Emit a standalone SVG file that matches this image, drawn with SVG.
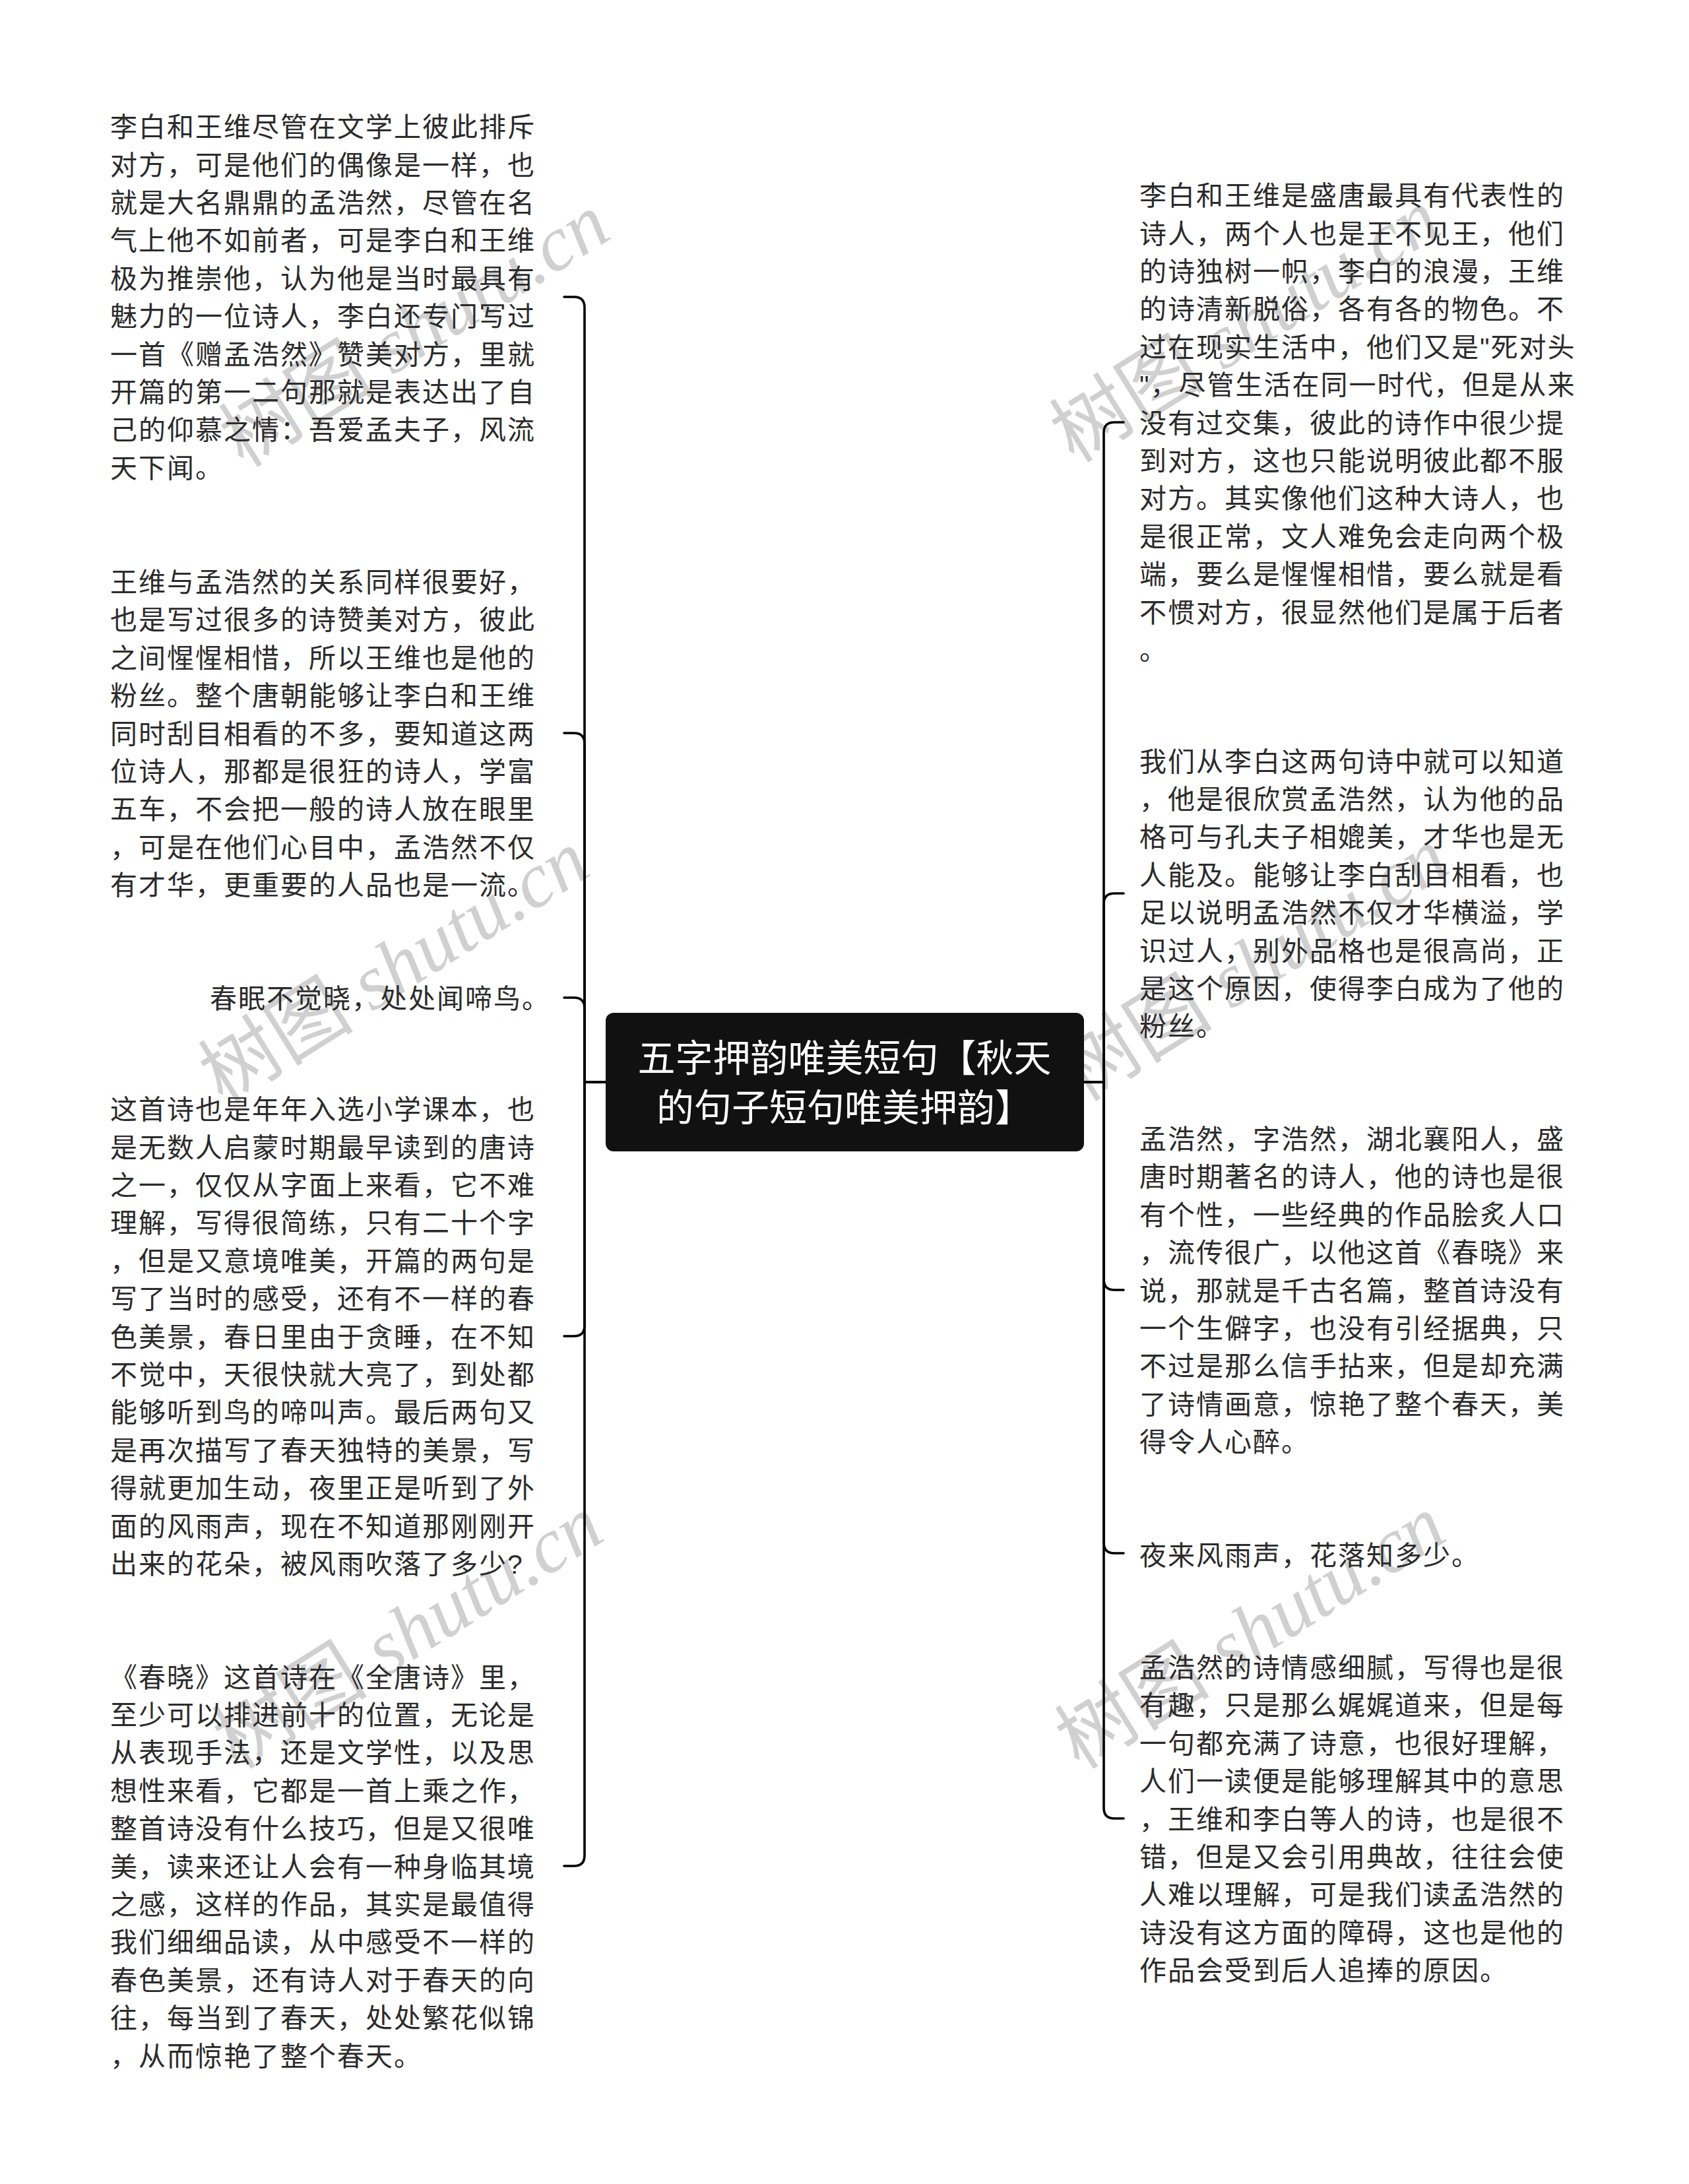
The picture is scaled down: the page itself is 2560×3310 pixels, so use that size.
<svg xmlns="http://www.w3.org/2000/svg" width="2560" height="3310" viewBox="0 0 2560 3310">
<style>
.bg{fill:#ffffff}
.wm{font-family:"Liberation Serif","Noto Sans CJK SC",serif;font-size:118px;fill:#d0d0d0}
.wm .it{font-style:italic}
.t{font-family:"Liberation Sans","Noto Sans CJK SC",sans-serif;font-size:41px;letter-spacing:2px;fill:#2b2b2b}
.title{font-family:"Liberation Sans","Noto Sans CJK SC",sans-serif;font-size:57px;fill:#ffffff;text-anchor:middle}
.conn{fill:none;stroke:#000000;stroke-width:3.6;stroke-linecap:round;stroke-linejoin:round}
.rootbox{fill:#111111}
</style>
<rect class="bg" x="0" y="0" width="2560" height="3310"/>
<g id="watermarks">
<text class="wm" transform="translate(369,710) rotate(-32)">树图<tspan class="it"> shutu.cn</tspan></text>
<text class="wm" transform="translate(338,1675) rotate(-32)">树图<tspan class="it"> shutu.cn</tspan></text>
<text class="wm" transform="translate(359,2683) rotate(-32)">树图<tspan class="it"> shutu.cn</tspan></text>
<text class="wm" transform="translate(1628,703) rotate(-32)">树图<tspan class="it"> shutu.cn</tspan></text>
<text class="wm" transform="translate(1640,1671) rotate(-32)">树图<tspan class="it"> shutu.cn</tspan></text>
<text class="wm" transform="translate(1636,2683) rotate(-32)">树图<tspan class="it"> shutu.cn</tspan></text>
</g>
<g id="connectors">
<path class="conn" d="M918 1640 H886 V466 Q886 450 870 450 H855"/>
<path class="conn" d="M918 1640 H886 V1127 Q886 1111 870 1111 H855"/>
<path class="conn" d="M918 1640 H886 V1528 Q886 1512 870 1512 H855"/>
<path class="conn" d="M918 1640 H886 V2009 Q886 2025 870 2025 H855"/>
<path class="conn" d="M918 1640 H886 V2812 Q886 2828 870 2828 H855"/>
<path class="conn" d="M1643 1640 H1673 V656 Q1673 640 1689 640 H1703"/>
<path class="conn" d="M1643 1640 H1673 V1370 Q1673 1354 1689 1354 H1703"/>
<path class="conn" d="M1643 1640 H1673 V1939 Q1673 1955 1689 1955 H1703"/>
<path class="conn" d="M1643 1640 H1673 V2338 Q1673 2354 1689 2354 H1703"/>
<path class="conn" d="M1643 1640 H1673 V2740 Q1673 2756 1689 2756 H1703"/>
</g>
<g id="root">
<rect class="rootbox" x="918" y="1535" width="725" height="210" rx="12" ry="12"/>
<text class="title" x="1280" y="1624">五字押韵唯美短句【秋天</text>
<text class="title" x="1280" y="1699">的句子短句唯美押韵】</text>
</g>
<g id="left1">
<text class="t" x="167" y="207.2"><tspan x="167" dy="0">李白和王维尽管在文学上彼此排斥</tspan><tspan x="167" dy="57.4">对方，可是他们的偶像是一样，也</tspan><tspan x="167" dy="57.4">就是大名鼎鼎的孟浩然，尽管在名</tspan><tspan x="167" dy="57.4">气上他不如前者，可是李白和王维</tspan><tspan x="167" dy="57.4">极为推崇他，认为他是当时最具有</tspan><tspan x="167" dy="57.4">魅力的一位诗人，李白还专门写过</tspan><tspan x="167" dy="57.4">一首《赠孟浩然》赞美对方，里就</tspan><tspan x="167" dy="57.4">开篇的第一二句那就是表达出了自</tspan><tspan x="167" dy="57.4">己的仰慕之情：吾爱孟夫子，风流</tspan><tspan x="167" dy="57.4">天下闻。</tspan></text>
</g>
<g id="left2">
<text class="t" x="167" y="896.9"><tspan x="167" dy="0">王维与孟浩然的关系同样很要好，</tspan><tspan x="167" dy="57.4">也是写过很多的诗赞美对方，彼此</tspan><tspan x="167" dy="57.4">之间惺惺相惜，所以王维也是他的</tspan><tspan x="167" dy="57.4">粉丝。整个唐朝能够让李白和王维</tspan><tspan x="167" dy="57.4">同时刮目相看的不多，要知道这两</tspan><tspan x="167" dy="57.4">位诗人，那都是很狂的诗人，学富</tspan><tspan x="167" dy="57.4">五车，不会把一般的诗人放在眼里</tspan><tspan x="167" dy="57.4">，可是在他们心目中，孟浩然不仅</tspan><tspan x="167" dy="57.4">有才华，更重要的人品也是一流。</tspan></text>
</g>
<g id="left3">
<text class="t" x="318" y="1527.5">春眠不觉晓，处处闻啼鸟。</text>
</g>
<g id="left4">
<text class="t" x="167" y="1696.1"><tspan x="167" dy="0">这首诗也是年年入选小学课本，也</tspan><tspan x="167" dy="57.4">是无数人启蒙时期最早读到的唐诗</tspan><tspan x="167" dy="57.4">之一，仅仅从字面上来看，它不难</tspan><tspan x="167" dy="57.4">理解，写得很简练，只有二十个字</tspan><tspan x="167" dy="57.4">，但是又意境唯美，开篇的两句是</tspan><tspan x="167" dy="57.4">写了当时的感受，还有不一样的春</tspan><tspan x="167" dy="57.4">色美景，春日里由于贪睡，在不知</tspan><tspan x="167" dy="57.4">不觉中，天很快就大亮了，到处都</tspan><tspan x="167" dy="57.4">能够听到鸟的啼叫声。最后两句又</tspan><tspan x="167" dy="57.4">是再次描写了春天独特的美景，写</tspan><tspan x="167" dy="57.4">得就更加生动，夜里正是听到了外</tspan><tspan x="167" dy="57.4">面的风雨声，现在不知道那刚刚开</tspan><tspan x="167" dy="57.4">出来的花朵，被风雨吹落了多少?</tspan></text>
</g>
<g id="left5">
<text class="t" x="167" y="2556.5"><tspan x="167" dy="0">《春晓》这首诗在《全唐诗》里，</tspan><tspan x="167" dy="57.4">至少可以排进前十的位置，无论是</tspan><tspan x="167" dy="57.4">从表现手法，还是文学性，以及思</tspan><tspan x="167" dy="57.4">想性来看，它都是一首上乘之作，</tspan><tspan x="167" dy="57.4">整首诗没有什么技巧，但是又很唯</tspan><tspan x="167" dy="57.4">美，读来还让人会有一种身临其境</tspan><tspan x="167" dy="57.4">之感，这样的作品，其实是最值得</tspan><tspan x="167" dy="57.4">我们细细品读，从中感受不一样的</tspan><tspan x="167" dy="57.4">春色美景，还有诗人对于春天的向</tspan><tspan x="167" dy="57.4">往，每当到了春天，处处繁花似锦</tspan><tspan x="167" dy="57.4">，从而惊艳了整个春天。</tspan></text>
</g>
<g id="right1">
<text class="t" x="1727" y="311.1"><tspan x="1727" dy="0">李白和王维是盛唐最具有代表性的</tspan><tspan x="1727" dy="57.4">诗人，两个人也是王不见王，他们</tspan><tspan x="1727" dy="57.4">的诗独树一帜，李白的浪漫，王维</tspan><tspan x="1727" dy="57.4">的诗清新脱俗，各有各的物色。不</tspan><tspan x="1727" dy="57.4">过在现实生活中，他们又是"死对头</tspan><tspan x="1727" dy="57.4">"，尽管生活在同一时代，但是从来</tspan><tspan x="1727" dy="57.4">没有过交集，彼此的诗作中很少提</tspan><tspan x="1727" dy="57.4">到对方，这也只能说明彼此都不服</tspan><tspan x="1727" dy="57.4">对方。其实像他们这种大诗人，也</tspan><tspan x="1727" dy="57.4">是很正常，文人难免会走向两个极</tspan><tspan x="1727" dy="57.4">端，要么是惺惺相惜，要么就是看</tspan><tspan x="1727" dy="57.4">不惯对方，很显然他们是属于后者</tspan><tspan x="1727" dy="57.4">。</tspan></text>
</g>
<g id="right2">
<text class="t" x="1727" y="1168.6"><tspan x="1727" dy="0">我们从李白这两句诗中就可以知道</tspan><tspan x="1727" dy="57.4">，他是很欣赏孟浩然，认为他的品</tspan><tspan x="1727" dy="57.4">格可与孔夫子相媲美，才华也是无</tspan><tspan x="1727" dy="57.4">人能及。能够让李白刮目相看，也</tspan><tspan x="1727" dy="57.4">足以说明孟浩然不仅才华横溢，学</tspan><tspan x="1727" dy="57.4">识过人，别外品格也是很高尚，正</tspan><tspan x="1727" dy="57.4">是这个原因，使得李白成为了他的</tspan><tspan x="1727" dy="57.4">粉丝。</tspan></text>
</g>
<g id="right3">
<text class="t" x="1727" y="1740.9"><tspan x="1727" dy="0">孟浩然，字浩然，湖北襄阳人，盛</tspan><tspan x="1727" dy="57.4">唐时期著名的诗人，他的诗也是很</tspan><tspan x="1727" dy="57.4">有个性，一些经典的作品脍炙人口</tspan><tspan x="1727" dy="57.4">，流传很广，以他这首《春晓》来</tspan><tspan x="1727" dy="57.4">说，那就是千古名篇，整首诗没有</tspan><tspan x="1727" dy="57.4">一个生僻字，也没有引经据典，只</tspan><tspan x="1727" dy="57.4">不过是那么信手拈来，但是却充满</tspan><tspan x="1727" dy="57.4">了诗情画意，惊艳了整个春天，美</tspan><tspan x="1727" dy="57.4">得令人心醉。</tspan></text>
</g>
<g id="right4">
<text class="t" x="1727" y="2371.5">夜来风雨声，花落知多少。</text>
</g>
<g id="right5">
<text class="t" x="1727" y="2541.9"><tspan x="1727" dy="0">孟浩然的诗情感细腻，写得也是很</tspan><tspan x="1727" dy="57.4">有趣，只是那么娓娓道来，但是每</tspan><tspan x="1727" dy="57.4">一句都充满了诗意，也很好理解，</tspan><tspan x="1727" dy="57.4">人们一读便是能够理解其中的意思</tspan><tspan x="1727" dy="57.4">，王维和李白等人的诗，也是很不</tspan><tspan x="1727" dy="57.4">错，但是又会引用典故，往往会使</tspan><tspan x="1727" dy="57.4">人难以理解，可是我们读孟浩然的</tspan><tspan x="1727" dy="57.4">诗没有这方面的障碍，这也是他的</tspan><tspan x="1727" dy="57.4">作品会受到后人追捧的原因。</tspan></text>
</g>
</svg>
